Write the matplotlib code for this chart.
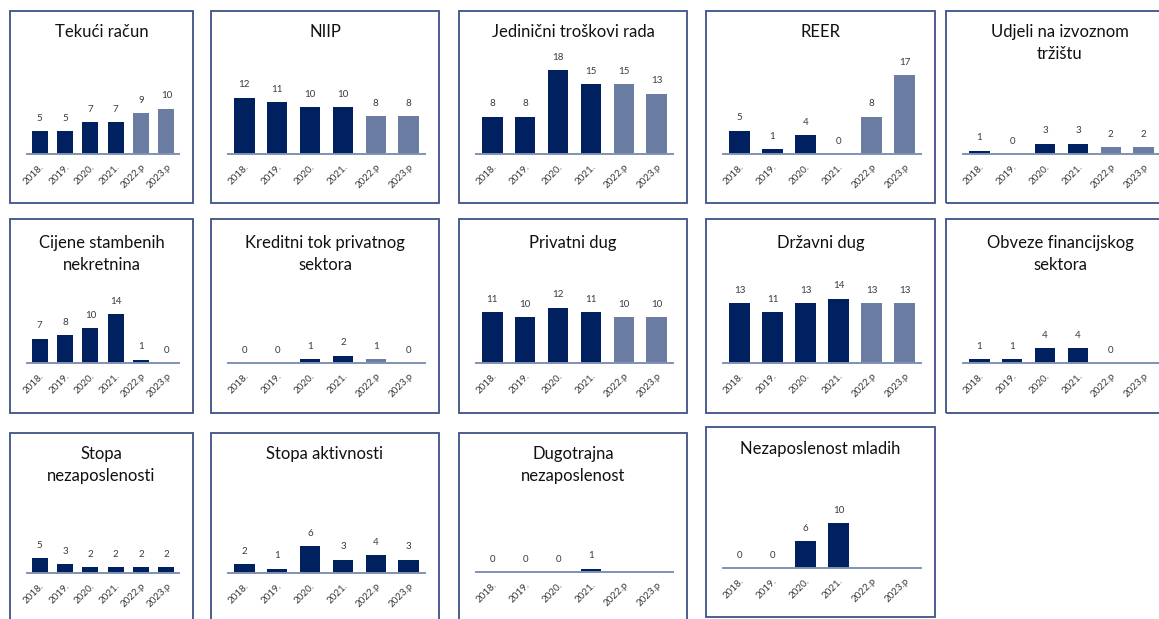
import matplotlib
matplotlib.use("Agg")
import matplotlib.pyplot as plt
from matplotlib.patches import Rectangle
import numpy as np

plt.rcParams['font.family'] = ['Lato', 'DejaVu Sans']

categories = ["2018.", "2019.", "2020.", "2021.", "2022.p", "2023.p"]

titles = [
    "Tekući račun", "NIIP", "Jedinični troškovi rada", "REER", "Udjeli na izvoznom\ntržištu",
    "Cijene stambenih\nnekretnina", "Kreditni tok privatnog\nsektora", "Privatni dug", "Državni dug",
    "Obveze financijskog\nsektora",
    "Stopa\nnezaposlenosti", "Stopa aktivnosti", "Dugotrajna\nnezaposlenost", "Nezaposlenost mladih",
]

tekuci_racun = [5, 5, 7, 7, 9, 10]
niip = [12, 11, 10, 10, 8, 8]
jedinicni_troskovi = [8, 8, 18, 15, 15, 13]
reer = [5, 1, 4, 0, 8, 17]
udjeli_izvoz = [1, 0, 3, 3, 2, 2]
cijene_nekretnina = [7, 8, 10, 14, 1, 0]
kreditni_tok = [0, 0, 1, 2, 1, 0]
privatni_dug = [11, 10, 12, 11, 10, 10]
drzavni_dug = [13, 11, 13, 14, 13, 13]
obveze_fin = [1, 1, 4, 4, 0, None]
stopa_nezap = [5, 3, 2, 2, 2, 2]
stopa_aktiv = [2, 1, 6, 3, 4, 3]
dugotrajna_nezap = [0, 0, 0, 1, None, None]
nezap_mladih = [0, 0, 6, 10, None, None]

series = [tekuci_racun, niip, jedinicni_troskovi, reer, udjeli_izvoz,
          cijene_nekretnina, kreditni_tok, privatni_dug, drzavni_dug, obveze_fin,
          stopa_nezap, stopa_aktiv, dugotrajna_nezap, nezap_mladih]

# --- styling / layout (pixels) ---
W, Hpx = 1159, 619
DARK = "#002060"
LIGHT = "#6B7DA3"
BOX = "#3D5286"
AXLINE = "#7F93B5"
LABEL = "#3A3A3A"

col_x = [(10, 193), (211, 439), (459, 687), (706, 935), (946, 1174)]
row_y = [(11, 203), (219, 413), (433, 625)]
baselines = [154, 363, 573]
title_top = [24, 235, 446]
# pixels per unit for each panel (visual scale)
px_per_unit = [4.55, 4.7, 4.65, 4.65, 3.4,
               3.5, 3.6, 4.6, 4.6, 3.75,
               3.0, 4.5, 3.3, 4.5]
proj_light = [True, True, True, True, True,
              False, True, True, True, True,
              False, False, True, True]

fig = plt.figure(figsize=(W / 100, Hpx / 100), dpi=100)


def fx(p):
    return p / W


def fy(p):
    return 1 - p / Hpx


AX_H = 100
for i, (title, vals) in enumerate(zip(titles, series)):
    r, c = divmod(i, 5)
    l, rr = col_x[c]
    t, b = row_y[r]
    base = baselines[r]
    tt = title_top[r]
    if r == 2 and c == 3:
        t, b = 427, 617
        base = 568
        tt = 441
    if r == 2 and c == 2:
        base = 572
    fig.patches.append(Rectangle((fx(l), fy(b)), fx(rr) - fx(l), fy(t) - fy(b),
                                 transform=fig.transFigure, fill=False,
                                 edgecolor=BOX, linewidth=1.3, zorder=0))
    fig.text(fx((l + rr) / 2), fy(tt), title, ha="center", va="top",
             fontsize=12, color="#111111", linespacing=1.45)

    ax = fig.add_axes([fx(l + 17), fy(base), fx(rr - 14) - fx(l + 17), AX_H / Hpx])
    ax.set_facecolor("none")
    ymax = AX_H / px_per_unit[i]
    x = np.arange(len(categories))
    hv = [np.nan if v is None else v for v in vals]
    colors = [DARK if (k < 4 or not proj_light[i]) else LIGHT for k in range(len(categories))]
    ax.bar(x, hv, width=0.62, color=colors, zorder=2)
    for k, v in enumerate(vals):
        if v is None:
            continue
        ax.annotate(f"{v}", (k, v), xytext=(0, 6), textcoords="offset points",
                    ha="center", va="bottom", fontsize=7, color=LABEL)
    ax.set_xlim(-0.5, 5.5)
    ax.set_ylim(0, ymax)
    for s in ("left", "right", "top"):
        ax.spines[s].set_visible(False)
    ax.spines["bottom"].set_color(AXLINE)
    ax.spines["bottom"].set_linewidth(1.4)
    ax.spines["bottom"].set_zorder(3)
    ax.set_yticks([])
    ax.set_xticks(x)
    ax.set_xticklabels(categories, rotation=45, ha="right", rotation_mode="anchor",
                       fontsize=7, color=LABEL)
    ax.tick_params(axis="x", length=0, pad=6)

fig.savefig("out.png", dpi=100)
